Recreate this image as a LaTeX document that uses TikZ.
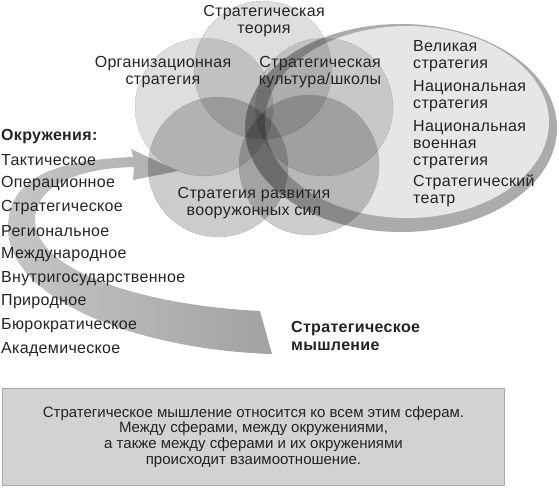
\documentclass[tikz,border=0pt]{standalone}
\usepackage{fontspec}
\setmainfont{Liberation Sans}
\newfontfamily\spacedfont[LetterSpace=2]{Liberation Sans}
\usetikzlibrary{shapes.geometric,positioning}
\definecolor{textdark}{HTML}{232323}
\definecolor{rimgray}{HTML}{ABABAB}
\definecolor{ovalfill}{HTML}{E6E6E6}
\definecolor{bandlight}{HTML}{C6C6C6}
\definecolor{banddark}{HTML}{A2A2A2}
\definecolor{boxfill}{HTML}{D3D1D1}
\definecolor{boxdraw}{HTML}{A9A9A9}

\begin{document}
\begin{tikzpicture}[
    x=1pt, y=-1pt,
    sphere/.style={circle, draw=gray, densely dotted, fill=black, fill opacity=0.13, minimum size=138pt, inner sep=0pt},
    lowsphere/.style={sphere, fill opacity=0.2, minimum size=140pt},
    caption/.style={align=center, text=textdark, font=\spacedfont\fontsize{16}{17}\selectfont, inner sep=0pt},
    level/.style={align=left, anchor=west, text=textdark, font=\spacedfont\fontsize{16}{17}\selectfont, inner sep=0pt},
    envitem/.style={anchor=west, text=textdark, font=\spacedfont\fontsize{16}{18}\selectfont, inner sep=0pt},
    heading/.style={align=left, anchor=west, text=textdark, font=\spacedfont\bfseries\fontsize{16}{18}\selectfont, inner sep=0pt}
]
\useasboundingbox (0,0) rectangle (559,487);

% Levels oval
\node (rim) [ellipse, fill=rimgray, minimum width=312pt, minimum height=208pt] at (401,128) {};
\node (oval) [ellipse, fill=ovalfill, minimum width=284pt, minimum height=192pt] at (407,122) {};

% Thinking arrow
\shade[left color=bandlight, right color=banddark]
    (272,354) .. controls (140,350) and (5,300) .. (8,225)
    .. controls (10,175) and (60,160) .. (133,157)
    -- (131,149) -- (178,171) -- (133,180) -- (134,167)
    .. controls (80,168) and (35,185) .. (35,220)
    .. controls (35,270) and (140,305) .. (260,311) -- cycle;

% Spheres
\node (theory) [sphere] at (263,70) {};
\node (organization) [sphere] at (204,107) {};
\node (culture) [sphere] at (324,107) {};
\node (forcesleft) [lowsphere] at (218,167) {};
\node (forcesright) [lowsphere] at (309,165) {};

% Sphere labels
\node (theorytext) [caption] at (264,21) {Стратегическая\\теория};
\node (orgtext) [caption] at (163,72) {Организационная\\стратегия};
\node (culturetext) [caption] at (320,72) {Стратегическая\\культура/школы};
\node (forcestext) [caption] at (254,203) {Стратегия развития\\вооружонных сил};

% Levels
\node (grand) [level] at (413,56) {Великая\\стратегия};
\node (national) [level] at (413,96) {Национальная\\стратегия};
\node (military) [level] at (413,145) {Национальная\\военная\\стратегия};
\node (theatre) [level] at (413,191) {Стратегический\\театр};

% Environments
\node (envtitle) [heading] at (1,137) {Окружения:};
\node (tactical) [envitem] at (1,160) {Тактическое};
\node (operational) [envitem] at (1,184) {Операционное};
\node (strategic) [envitem] at (1,208) {Стратегическое};
\node (regional) [envitem] at (1,231) {Региональное};
\node (international) [envitem] at (1,255) {Международное};
\node (domestic) [envitem] at (1,279) {Внутригосударственное};
\node (natural) [envitem] at (1,302) {Природное};
\node (bureaucratic) [envitem] at (1,326) {Бюрократическое};
\node (academic) [envitem] at (1,350) {Академическое};

\node (thinking) [heading] at (291,336) {Стратегическое\\мышление};

% Summary
\node (summary) [rectangle, fill=boxfill, draw=boxdraw, line width=1.5pt, minimum width=502pt, minimum height=97pt, align=center, text=textdark, font=\fontsize{15}{15.8}\selectfont] at (253.5,437) {Стратегическое мышление относится ко всем этим сферам.\\Между сферами, между окружениями,\\а также между сферами и их окружениями\\происходит взаимоотношение.};

\end{tikzpicture}
\end{document}
